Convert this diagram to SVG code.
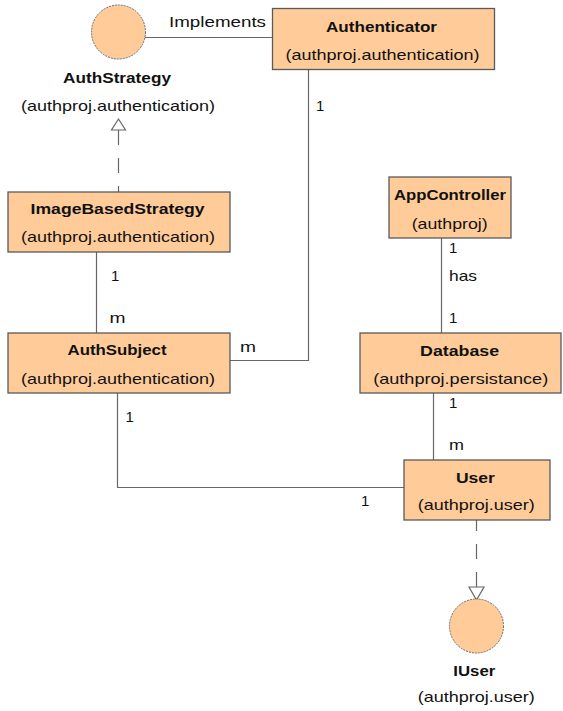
<svg xmlns="http://www.w3.org/2000/svg" width="563" height="711" viewBox="0 0 563 711">
<style>
.box{fill:#FFCC99;stroke:#5a5a5a;stroke-width:1.3}
.iface{fill:#FFCC99;stroke:#6a6a6a;stroke-width:1;stroke-dasharray:2,1}
.ln{fill:none;stroke:#666;stroke-width:1.2}
.dash{fill:none;stroke:#666;stroke-width:1.2;stroke-dasharray:15,13}
.tri{fill:#fff;stroke:#666;stroke-width:1.2}
text{font-family:"Liberation Sans",Arial,sans-serif;font-size:15px;fill:#111}
.b{font-weight:bold}
.c{text-anchor:middle}
</style>
<rect width="563" height="711" fill="#fff"/>
<g id="connectors">
<line class="ln" x1="144.5" y1="37.5" x2="272.5" y2="37.5"/>
<line class="dash" x1="118.5" y1="130" x2="118.5" y2="192"/>
<polygon class="tri" points="118.5,119 111.5,130 125.5,130"/>
<polyline class="ln" points="308.5,69.5 308.5,360.5 230,360.5"/>
<line class="ln" x1="96.5" y1="252" x2="96.5" y2="333"/>
<line class="ln" x1="441.5" y1="238" x2="441.5" y2="333"/>
<line class="ln" x1="433.5" y1="393" x2="433.5" y2="460"/>
<polyline class="ln" points="117.5,393 117.5,487.5 404,487.5"/>
<line class="dash" x1="476.5" y1="587" x2="476.5" y2="520"/>
<polygon class="tri" points="476.5,600 469,587 484,587"/>
<text x="169" y="27" textLength="97" lengthAdjust="spacingAndGlyphs">Implements</text>
<text x="316" y="111">1</text>
<text x="240" y="352" textLength="16" lengthAdjust="spacingAndGlyphs">m</text>
<text x="111" y="281">1</text>
<text x="109.5" y="323" textLength="16" lengthAdjust="spacingAndGlyphs">m</text>
<text x="449" y="253">1</text>
<text x="449" y="281" textLength="28" lengthAdjust="spacingAndGlyphs">has</text>
<text x="449" y="323">1</text>
<text x="125.5" y="422">1</text>
<text x="361" y="506">1</text>
<text x="449" y="408">1</text>
<text x="449" y="450" textLength="15" lengthAdjust="spacingAndGlyphs">m</text>
</g>
<g id="AuthStrategy">
<circle class="iface" cx="118.5" cy="32" r="27"/>
<text class="b c" x="117" y="83" textLength="108" lengthAdjust="spacingAndGlyphs">AuthStrategy</text>
<text class="c" x="118" y="111" textLength="194" lengthAdjust="spacingAndGlyphs">(authproj.authentication)</text>
</g>
<g id="Authenticator">
<rect class="box" x="272.5" y="8.5" width="222" height="61"/>
<text class="b c" x="381.5" y="32" textLength="111" lengthAdjust="spacingAndGlyphs">Authenticator</text>
<text class="c" x="382.5" y="60" textLength="194" lengthAdjust="spacingAndGlyphs">(authproj.authentication)</text>
</g>
<g id="ImageBasedStrategy">
<rect class="box" x="8" y="192" width="222" height="60"/>
<text class="b c" x="117.6" y="214" textLength="174" lengthAdjust="spacingAndGlyphs">ImageBasedStrategy</text>
<text class="c" x="118" y="242" textLength="194" lengthAdjust="spacingAndGlyphs">(authproj.authentication)</text>
</g>
<g id="AuthSubject">
<rect class="box" x="8" y="333" width="222" height="60"/>
<text class="b c" x="117" y="354.5" textLength="99" lengthAdjust="spacingAndGlyphs">AuthSubject</text>
<text class="c" x="118" y="384" textLength="194" lengthAdjust="spacingAndGlyphs">(authproj.authentication)</text>
</g>
<g id="AppController">
<rect class="box" x="389" y="177" width="122" height="61"/>
<text class="b c" x="450" y="200" textLength="112" lengthAdjust="spacingAndGlyphs">AppController</text>
<text class="c" x="449.7" y="229" textLength="76" lengthAdjust="spacingAndGlyphs">(authproj)</text>
</g>
<g id="Database">
<rect class="box" x="360" y="333" width="201" height="60"/>
<text class="b c" x="459.6" y="355.5" textLength="79" lengthAdjust="spacingAndGlyphs">Database</text>
<text class="c" x="460.7" y="384" textLength="175" lengthAdjust="spacingAndGlyphs">(authproj.persistance)</text>
</g>
<g id="User">
<rect class="box" x="404" y="460" width="146" height="60"/>
<text class="b c" x="475.4" y="482.5" textLength="39" lengthAdjust="spacingAndGlyphs">User</text>
<text class="c" x="476.3" y="509.5" textLength="117" lengthAdjust="spacingAndGlyphs">(authproj.user)</text>
</g>
<g id="IUser">
<circle class="iface" cx="476.5" cy="626" r="27"/>
<text class="b c" x="474.3" y="676" textLength="42" lengthAdjust="spacingAndGlyphs">IUser</text>
<text class="c" x="476.3" y="702" textLength="117" lengthAdjust="spacingAndGlyphs">(authproj.user)</text>
</g>
</svg>
